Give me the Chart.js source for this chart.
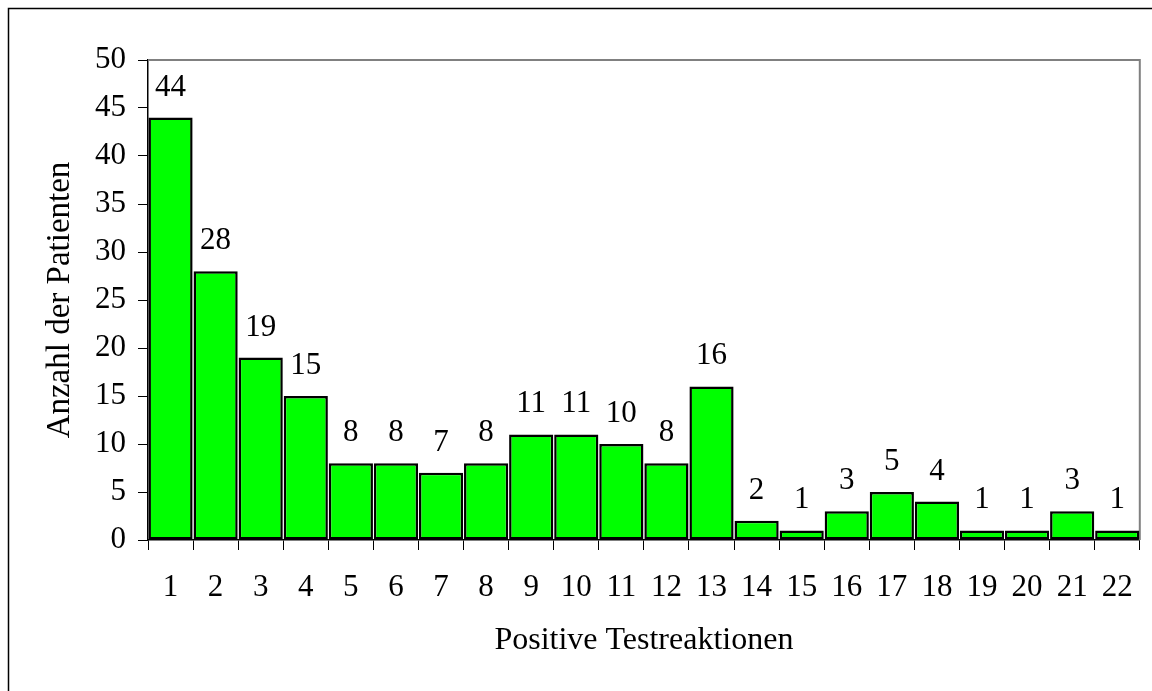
<!DOCTYPE html>
<html>
<head>
<meta charset="utf-8">
<script src="https://cdn.jsdelivr.net/npm/chart.js@4/dist/chart.umd.min.js"></script>
<style>
  html, body { margin: 0; padding: 0; background: #fff; }
  #wrap { position: relative; width: 1152px; height: 691px; }
</style>
</head>
<body>
<div id="wrap"><canvas id="chart"></canvas></div>
<script>
// Verteilung der positiven Testreaktionen
const categories = ['1','2','3','4','5','6','7','8','9','10','11','12','13','14','15','16','17','18','19','20','21','22'];
const patients = [44, 28, 19, 15, 8, 8, 7, 8, 11, 11, 10, 8, 16, 2, 1, 3, 5, 4, 1, 1, 3, 1];
const yTicks = { min: 0, max: 50, step: 5 };

const serif = 'Liberation Serif, Times New Roman, serif';

// Rahmen um die Grafik + grauer Plotrahmen
const framePlugin = {
    id: 'frame',
    beforeDraw(chart) {
        const { ctx } = chart;
        ctx.save();
        ctx.fillStyle = '#fff';
        ctx.fillRect(0, 0, chart.width, chart.height);
        ctx.strokeStyle = '#000';
        ctx.lineWidth = 1.5;
        ctx.strokeRect(8.5, 8.5, 1300, 1300);
        ctx.restore();
    },
    beforeDatasetsDraw(chart) {
        const { ctx, chartArea: a } = chart;
        ctx.save();
        ctx.strokeStyle = '#808080';
        ctx.lineWidth = 2;
        ctx.beginPath();
        ctx.moveTo(a.left, a.top);
        ctx.lineTo(a.right, a.top);
        ctx.lineTo(a.right, a.bottom);
        ctx.stroke();
        ctx.restore();
    },
};

// Werte über den Balken
const valueLabels = {
    id: 'valueLabels',
    afterDatasetsDraw(chart) {
        const { ctx } = chart;
        const meta = chart.getDatasetMeta(0);
        ctx.save();
        ctx.fillStyle = '#000';
        ctx.font = '31px ' + serif;
        ctx.textAlign = 'center';
        ctx.textBaseline = 'alphabetic';
        meta.data.forEach((bar, i) => {
            ctx.fillText(String(patients[i]), bar.x, bar.y - 22);
        });
        ctx.restore();
    },
};

new Chart(document.getElementById('chart'), {
    type: 'bar',
    data: {
        labels: categories,
        datasets: [{
            data: patients,
            backgroundColor: '#00ff00',
            borderColor: '#000',
            borderWidth: 2.5,
            borderSkipped: false,
            barPercentage: 0.98,
            categoryPercentage: 1,
        }],
    },
    options: {
        responsive: true,
        maintainAspectRatio: false,
        animation: false,
        layout: { padding: { top: 60, right: 11, left: 0, bottom: 0 } },
        plugins: {
            legend: { display: false },
            tooltip: { enabled: false },
        },
        scales: {
            x: {
                afterFit: s => { s.height = 151; },
                grid: {
                    offset: true,
                    drawOnChartArea: false,
                    color: '#000',
                    tickLength: 10,
                    lineWidth: 1,
                },
                border: { color: '#000', width: 1.5 },
                ticks: {
                    color: '#000',
                    padding: 19,
                    font: { family: serif, size: 31 },
                    maxRotation: 0,
                    autoSkip: false,
                },
                title: {
                    display: true,
                    text: 'Positive Testreaktionen',
                    color: '#000',
                    font: { family: serif, size: 32 },
                    padding: { top: 0, bottom: 31 },
                },
            },
            y: {
                min: yTicks.min,
                max: yTicks.max,
                afterFit: s => { s.width = 148; },
                grid: {
                    drawOnChartArea: false,
                    color: '#000',
                    tickLength: 10,
                    lineWidth: 1,
                },
                border: { color: '#000', width: 1.5 },
                ticks: {
                    stepSize: yTicks.step,
                    color: '#000',
                    padding: 12,
                    font: { family: serif, size: 31 },
                },
                title: {
                    display: true,
                    text: 'Anzahl der Patienten',
                    color: '#000',
                    font: { family: serif, size: 33 },
                    padding: { top: 41, bottom: 0 },
                },
            },
        },
    },
    plugins: [framePlugin, valueLabels],
});
</script>
</body>
</html>
